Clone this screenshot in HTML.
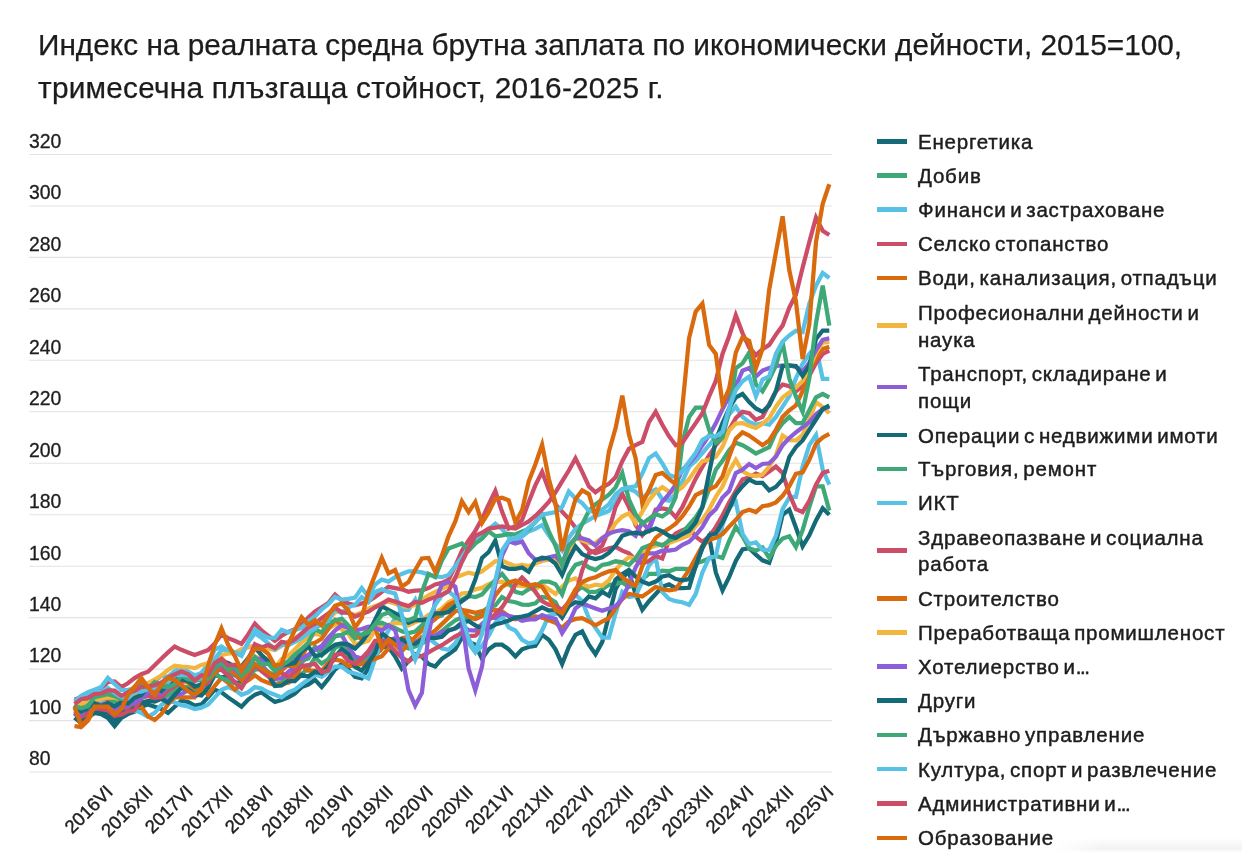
<!DOCTYPE html>
<html lang="bg"><head><meta charset="utf-8"><title>Индекс на реалната средна брутна заплата</title>
<style>
html,body{margin:0;padding:0;background:#fff;}
body{width:1242px;height:861px;overflow:hidden;position:relative;font-family:"Liberation Sans",sans-serif;color:#222;}
#chart{position:absolute;left:0;top:0;will-change:transform;}
#wrap{position:absolute;left:0;top:0;width:1242px;height:861px;will-change:transform;}
.title{position:absolute;left:38px;top:23px;font-size:29.8px;line-height:43px;color:#1c1c1c;white-space:nowrap;margin:0;font-weight:400;-webkit-text-stroke:.25px #1c1c1c;}
.ylab{font-size:19.4px;fill:#1e1e1e;stroke:#1e1e1e;stroke-width:.3px;}
.xlab{font-size:18.5px;fill:#222;stroke:#222;stroke-width:.4px;}
.leg{position:absolute;left:918px;font-size:20.5px;letter-spacing:.8px;word-spacing:-2.7px;-webkit-text-stroke:.45px #1d1d1d;line-height:27px;color:#1d1d1d;white-space:nowrap;transform-origin:0 50%;}
.sw{position:absolute;left:877px;width:30px;height:4.5px;}
.el{letter-spacing:-1.5px;}
.fade{position:absolute;left:1055px;top:838px;width:187px;height:15px;background:linear-gradient(to bottom,rgba(240,240,240,0),rgba(241,241,241,.9) 70%,rgba(255,255,255,0));-webkit-mask-image:linear-gradient(to right,transparent,#000 25%);mask-image:linear-gradient(to right,transparent,#000 25%);}
</style></head><body><div id="wrap">
<h1 class="title">Индекс на реалната средна брутна заплата по икономически дейности, 2015=100,<br><span id="t2" style="letter-spacing:.24px">тримесечна плъзгаща стойност, 2016-2025 г.</span></h1>
<svg id="chart" width="1242" height="861" viewBox="0 0 1242 861" font-family="Liberation Sans, sans-serif">
<g stroke="#e3e3e3" stroke-width="1.1">
<line x1="29" x2="832" y1="772.0" y2="772.0"/>
<line x1="29" x2="832" y1="720.6" y2="720.6"/>
<line x1="29" x2="832" y1="669.1" y2="669.1"/>
<line x1="29" x2="832" y1="617.6" y2="617.6"/>
<line x1="29" x2="832" y1="566.2" y2="566.2"/>
<line x1="29" x2="832" y1="514.7" y2="514.7"/>
<line x1="29" x2="832" y1="463.3" y2="463.3"/>
<line x1="29" x2="832" y1="411.8" y2="411.8"/>
<line x1="29" x2="832" y1="360.3" y2="360.3"/>
<line x1="29" x2="832" y1="308.9" y2="308.9"/>
<line x1="29" x2="832" y1="257.4" y2="257.4"/>
<line x1="29" x2="832" y1="206.0" y2="206.0"/>
<line x1="29" x2="832" y1="154.5" y2="154.5"/>
</g>
<g class="ylab">
<text x="29" y="765.3">80</text>
<text x="29" y="713.9">100</text>
<text x="29" y="662.4">120</text>
<text x="29" y="610.9">140</text>
<text x="29" y="559.5">160</text>
<text x="29" y="508.0">180</text>
<text x="29" y="456.6">200</text>
<text x="29" y="405.1">220</text>
<text x="29" y="353.6">240</text>
<text x="29" y="302.2">260</text>
<text x="29" y="250.7">280</text>
<text x="29" y="199.3">300</text>
<text x="29" y="147.8">320</text>
</g>
<g class="xlab" text-anchor="end">
<text transform="translate(113.8,793.0) rotate(-45)">2016VI</text>
<text transform="translate(153.8,793.0) rotate(-45)">2016XII</text>
<text transform="translate(193.9,793.0) rotate(-45)">2017VI</text>
<text transform="translate(233.9,793.0) rotate(-45)">2017XII</text>
<text transform="translate(274.0,793.0) rotate(-45)">2018VI</text>
<text transform="translate(314.1,793.0) rotate(-45)">2018XII</text>
<text transform="translate(354.1,793.0) rotate(-45)">2019VI</text>
<text transform="translate(394.1,793.0) rotate(-45)">2019XII</text>
<text transform="translate(434.2,793.0) rotate(-45)">2020VI</text>
<text transform="translate(474.2,793.0) rotate(-45)">2020XII</text>
<text transform="translate(514.3,793.0) rotate(-45)">2021VI</text>
<text transform="translate(554.3,793.0) rotate(-45)">2021XII</text>
<text transform="translate(594.4,793.0) rotate(-45)">2022VI</text>
<text transform="translate(634.4,793.0) rotate(-45)">2022XII</text>
<text transform="translate(674.5,793.0) rotate(-45)">2023VI</text>
<text transform="translate(714.5,793.0) rotate(-45)">2023XII</text>
<text transform="translate(754.6,793.0) rotate(-45)">2024VI</text>
<text transform="translate(794.6,793.0) rotate(-45)">2024XII</text>
<text transform="translate(834.7,793.0) rotate(-45)">2025VI</text>
</g>
<g fill="none" stroke-width="4.25" stroke-linejoin="miter" stroke-linecap="butt">
<polyline stroke="#146a77" points="74.5,717.7 81.2,723.1 87.9,718.0 94.5,712.8 101.2,714.1 107.9,718.0 114.6,726.2 121.3,718.0 127.9,714.1 134.6,711.6 141.3,706.7 148.0,704.4 154.7,706.7 161.3,709.0 168.0,712.8 174.7,706.7 181.4,700.7 188.1,702.0 194.7,705.6 201.4,704.4 208.1,697.4 214.8,689.7 221.5,692.3 228.1,697.4 234.8,702.0 241.5,706.7 248.2,699.5 254.9,694.8 261.5,692.3 268.2,697.4 274.9,702.0 281.6,700.0 288.3,697.4 294.9,693.5 301.6,687.1 308.3,684.5 315.0,679.9 321.7,687.1 328.3,678.9 335.0,669.6 341.7,664.0 348.4,669.6 355.1,676.8 361.7,678.4 368.4,668.6 375.1,656.5 381.8,647.0 388.5,647.0 395.1,656.5 401.8,668.6 408.5,661.4 415.2,654.2 421.9,656.5 428.5,664.0 435.2,666.5 441.9,658.8 448.6,654.2 455.3,649.3 461.9,637.5 468.6,642.1 475.3,644.7 482.0,658.8 488.7,649.3 495.3,644.7 502.0,644.7 508.7,649.3 515.4,656.5 522.1,649.3 528.7,647.0 535.4,645.9 542.1,634.9 548.8,639.8 555.5,649.3 562.1,664.0 568.8,647.0 575.5,634.9 582.2,631.3 588.9,644.7 595.5,654.2 602.2,642.1 608.9,615.8 615.6,589.3 622.3,577.2 628.9,572.4 635.6,594.0 642.3,609.9 649.0,601.2 655.7,594.0 662.3,586.8 669.0,584.4 675.7,588.1 682.4,588.1 689.1,587.8 695.7,566.2 702.4,548.2 709.1,536.3 715.8,572.4 722.5,590.4 729.1,577.2 735.8,561.0 742.5,549.5 749.2,548.2 755.9,554.6 762.5,560.3 769.2,562.8 775.9,543.0 782.6,514.7 789.3,509.6 795.9,527.6 802.6,546.4 809.3,535.3 816.0,520.4 822.7,508.3 829.3,514.7"/>
<polyline stroke="#3fa877" points="74.5,714.9 81.2,714.1 87.9,712.2 94.5,709.1 101.2,707.8 107.9,710.0 114.6,714.6 121.3,711.5 127.9,710.3 134.6,701.4 141.3,698.2 148.0,694.6 154.7,698.9 161.3,696.3 168.0,695.7 174.7,689.3 181.4,686.1 188.1,687.6 194.7,691.9 201.4,685.2 208.1,678.4 214.8,669.3 221.5,669.3 228.1,673.7 234.8,675.3 241.5,676.3 248.2,670.0 254.9,665.2 261.5,668.5 268.2,672.9 274.9,684.8 281.6,682.0 288.3,677.2 294.9,675.2 301.6,674.1 308.3,668.3 315.0,657.5 321.7,663.6 328.3,659.3 335.0,647.9 341.7,644.5 348.4,650.0 355.1,659.1 361.7,661.3 368.4,657.1 375.1,647.0 381.8,635.7 388.5,639.2 395.1,640.8 401.8,644.8 408.5,648.5 415.2,646.5 421.9,643.4 428.5,639.9 435.2,635.7 441.9,631.1 448.6,625.4 455.3,620.4 461.9,617.6 468.6,619.3 475.3,617.6 482.0,611.6 488.7,607.3 495.3,605.5 502.0,597.1 508.7,601.0 515.4,602.2 522.1,604.6 528.7,604.8 535.4,603.3 542.1,597.1 548.8,598.0 555.5,602.2 562.1,615.1 568.8,602.2 575.5,591.9 582.2,586.8 588.9,591.9 595.5,591.9 602.2,589.3 608.9,584.8 615.6,584.2 622.3,582.4 628.9,586.8 635.6,584.6 642.3,579.0 649.0,573.8 655.7,573.9 662.3,570.6 669.0,571.3 675.7,568.9 682.4,568.8 689.1,569.3 695.7,563.6 702.4,561.3 709.1,558.5 715.8,555.9 722.5,557.9 729.1,541.2 735.8,526.8 742.5,536.3 749.2,548.2 755.9,550.7 762.5,547.4 769.2,557.9 775.9,545.9 782.6,538.6 789.3,536.3 795.9,547.1 802.6,530.2 809.3,507.0 816.0,486.4 822.7,486.4 829.3,510.6"/>
<polyline stroke="#57c1e6" points="74.5,712.8 81.2,709.0 87.9,700.0 94.5,697.4 101.2,701.3 107.9,707.7 114.6,711.6 121.3,709.0 127.9,705.1 134.6,710.3 141.3,712.8 148.0,716.7 154.7,712.8 161.3,705.1 168.0,700.0 174.7,702.5 181.4,705.1 188.1,706.4 194.7,709.0 201.4,707.7 208.1,704.4 214.8,697.4 221.5,689.7 228.1,687.1 234.8,689.7 241.5,694.8 248.2,692.3 254.9,687.1 261.5,688.4 268.2,692.3 274.9,694.8 281.6,697.4 288.3,692.3 294.9,689.7 301.6,684.5 308.3,679.4 315.0,674.2 321.7,676.8 328.3,671.7 335.0,666.5 341.7,666.5 348.4,671.7 355.1,673.5 361.7,675.5 368.4,678.4 375.1,658.8 381.8,642.1 388.5,630.5 395.1,617.6 401.8,609.9 408.5,609.9 415.2,599.6 421.9,617.6 428.5,638.2 435.2,643.4 441.9,648.5 448.6,649.8 455.3,643.4 461.9,630.5 468.6,643.4 475.3,652.4 482.0,645.9 488.7,635.7 495.3,622.8 502.0,616.1 508.7,627.4 515.4,630.5 522.1,639.8 528.7,643.4 535.4,642.1 542.1,630.5 548.8,615.8 555.5,613.8 562.1,612.5 568.8,604.8 575.5,594.5 582.2,601.2 588.9,618.2 595.5,627.9 602.2,637.5 608.9,637.5 615.6,613.3 622.3,591.9 628.9,597.1 635.6,595.8 642.3,581.6 649.0,565.2 655.7,557.9 662.3,591.9 669.0,598.9 675.7,601.2 682.4,602.2 689.1,604.8 695.7,594.0 702.4,572.4 709.1,557.9 715.8,555.9 722.5,525.0 729.1,507.5 735.8,501.9 742.5,533.8 749.2,544.1 755.9,542.3 762.5,549.7 769.2,550.0 775.9,535.8 782.6,509.1 789.3,497.5 795.9,496.7 802.6,466.6 809.3,445.2 816.0,435.0 822.7,469.7 829.3,484.6"/>
<polyline stroke="#cb4d68" points="74.5,699.5 81.2,697.4 87.9,694.3 94.5,691.0 101.2,688.7 107.9,682.0 114.6,681.5 121.3,687.1 127.9,683.3 134.6,678.1 141.3,674.2 148.0,671.7 154.7,665.2 161.3,658.8 168.0,652.4 174.7,646.5 181.4,649.8 188.1,652.4 194.7,654.9 201.4,652.4 208.1,650.1 214.8,643.4 221.5,634.4 228.1,638.2 234.8,640.8 241.5,643.9 248.2,634.4 254.9,623.6 261.5,630.5 268.2,635.7 274.9,640.8 281.6,635.7 288.3,631.8 294.9,629.2 301.6,624.6 308.3,617.6 315.0,611.5 321.7,607.3 328.3,603.0 335.0,594.5 341.7,600.4 348.4,603.5 355.1,605.3 361.7,603.5 368.4,601.2 375.1,597.1 381.8,591.9 388.5,586.8 395.1,588.1 401.8,589.3 408.5,591.7 415.2,590.6 421.9,590.4 428.5,588.1 435.2,584.4 441.9,582.9 448.6,579.6 455.3,566.2 461.9,550.7 468.6,540.5 475.3,530.9 482.0,518.8 488.7,504.4 495.3,491.0 502.0,511.6 508.7,528.6 515.4,526.3 522.1,519.9 528.7,501.9 535.4,485.1 542.1,471.8 548.8,489.8 555.5,504.4 562.1,511.6 568.8,518.8 575.5,527.6 582.2,542.0 588.9,550.0 595.5,553.3 602.2,550.7 608.9,548.2 615.6,546.9 622.3,550.7 628.9,553.3 635.6,559.7 642.3,563.6 649.0,561.0 655.7,555.9 662.3,558.5 669.0,540.5 675.7,533.5 682.4,530.2 689.1,527.6 695.7,536.8 702.4,541.7 709.1,536.8 715.8,527.1 722.5,515.5 729.1,502.4 735.8,491.0 742.5,479.5 749.2,477.4 755.9,473.6 762.5,476.1 769.2,471.5 775.9,466.6 782.6,473.0 789.3,494.1 795.9,509.1 802.6,512.1 809.3,500.8 816.0,484.6 822.7,473.0 829.3,470.7"/>
<polyline stroke="#d96b0e" points="74.5,726.2 81.2,727.0 87.9,720.6 94.5,709.0 101.2,709.0 107.9,709.0 114.6,715.4 121.3,711.6 127.9,707.7 134.6,707.7 141.3,706.7 148.0,716.4 154.7,720.0 161.3,714.1 168.0,704.4 174.7,697.4 181.4,697.4 188.1,697.4 194.7,697.4 201.4,687.4 208.1,694.8 214.8,685.8 221.5,677.8 228.1,682.7 234.8,689.7 241.5,684.5 248.2,680.2 254.9,675.3 261.5,680.2 268.2,682.7 274.9,685.1 281.6,684.0 288.3,682.7 294.9,677.8 301.6,665.8 308.3,670.6 315.0,670.6 321.7,670.6 328.3,663.2 335.0,659.6 341.7,660.9 348.4,665.8 355.1,665.8 361.7,664.0 368.4,661.4 375.1,658.8 381.8,656.2 388.5,648.5 395.1,640.8 401.8,638.2 408.5,636.9 415.2,643.4 421.9,636.9 428.5,635.7 435.2,630.5 441.9,624.1 448.6,617.6 455.3,611.2 461.9,609.9 468.6,611.2 475.3,612.8 482.0,611.2 488.7,611.2 495.3,609.9 502.0,611.2 508.7,616.1 515.4,619.2 522.1,617.6 528.7,619.2 535.4,616.4 542.1,617.6 548.8,620.2 555.5,622.8 562.1,627.9 568.8,621.5 575.5,618.9 582.2,618.2 588.9,621.5 595.5,625.4 602.2,621.5 608.9,618.2 615.6,608.4 622.3,598.9 628.9,594.0 635.6,595.0 642.3,596.5 649.0,591.9 655.7,586.8 662.3,589.3 669.0,590.4 675.7,589.3 682.4,579.6 689.1,570.0 695.7,557.9 702.4,545.9 709.1,539.9 715.8,537.9 722.5,534.0 729.1,526.8 735.8,519.9 742.5,512.1 749.2,509.8 755.9,512.1 762.5,506.2 769.2,505.2 775.9,502.4 782.6,495.9 789.3,486.2 795.9,473.8 802.6,472.3 809.3,459.9 816.0,443.7 822.7,437.5 829.3,433.9"/>
<polyline stroke="#f2b63e" points="74.5,708.8 81.2,709.0 87.9,704.5 94.5,698.1 101.2,699.2 107.9,695.5 114.6,700.5 121.3,700.8 127.9,695.6 134.6,693.2 141.3,689.4 148.0,689.4 154.7,688.9 161.3,689.9 168.0,690.3 174.7,684.8 181.4,681.2 188.1,680.6 194.7,681.4 201.4,677.1 208.1,671.4 214.8,662.3 221.5,657.8 228.1,664.9 234.8,664.8 241.5,670.6 248.2,662.9 254.9,656.5 261.5,658.9 268.2,663.8 274.9,667.5 281.6,659.1 288.3,655.7 294.9,649.4 301.6,642.2 308.3,637.6 315.0,634.0 321.7,635.2 328.3,628.6 335.0,624.8 341.7,629.5 348.4,633.9 355.1,644.0 361.7,642.9 368.4,640.8 375.1,630.4 381.8,625.4 388.5,625.1 395.1,622.8 401.8,623.3 408.5,625.4 415.2,622.0 421.9,620.2 428.5,614.9 435.2,612.5 441.9,608.6 448.6,602.2 455.3,598.9 461.9,593.5 468.6,592.8 475.3,589.3 482.0,587.9 488.7,584.2 495.3,581.9 502.0,581.6 508.7,585.1 515.4,585.5 522.1,586.0 528.7,586.8 535.4,589.3 542.1,584.7 548.8,589.3 555.5,594.0 562.1,586.8 568.8,580.6 575.5,578.3 582.2,584.2 588.9,586.8 595.5,584.7 602.2,585.7 608.9,580.3 615.6,569.8 622.3,562.6 628.9,557.2 635.6,558.5 642.3,554.6 649.0,548.2 655.7,545.6 662.3,544.3 669.0,543.0 675.7,540.5 682.4,537.9 689.1,535.3 695.7,526.0 702.4,519.9 709.1,509.6 715.8,496.7 722.5,486.4 729.1,471.5 735.8,459.9 742.5,471.5 749.2,474.8 755.9,476.1 762.5,474.6 769.2,466.6 775.9,455.5 782.6,435.5 789.3,440.1 795.9,440.4 802.6,435.0 809.3,419.5 816.0,402.3 822.7,406.9 829.3,413.3"/>
<polyline stroke="#8c5fd8" points="74.5,714.1 81.2,709.5 87.9,706.8 94.5,701.1 101.2,706.8 107.9,707.1 114.6,712.9 121.3,708.6 127.9,706.1 134.6,697.7 141.3,696.3 148.0,691.4 154.7,692.6 161.3,697.2 168.0,701.6 174.7,695.2 181.4,694.0 188.1,690.4 194.7,696.3 201.4,693.3 208.1,680.0 214.8,674.2 221.5,666.7 228.1,669.3 234.8,674.4 241.5,681.1 248.2,673.8 254.9,666.4 261.5,664.9 268.2,672.5 274.9,679.3 281.6,678.1 288.3,671.8 294.9,667.1 301.6,662.7 308.3,655.6 315.0,649.1 321.7,649.8 328.3,643.5 335.0,635.7 341.7,635.1 348.4,646.7 355.1,656.6 361.7,658.6 368.4,653.8 375.1,642.3 381.8,640.8 388.5,640.4 395.1,638.2 401.8,642.6 408.5,643.4 415.2,641.3 421.9,640.8 428.5,635.7 435.2,636.1 441.9,632.0 448.6,630.5 455.3,628.6 461.9,625.4 468.6,630.2 475.3,630.5 482.0,624.0 488.7,617.6 495.3,617.8 502.0,613.3 508.7,615.8 515.4,617.6 522.1,620.8 528.7,619.4 535.4,619.4 542.1,615.1 548.8,617.4 555.5,618.9 562.1,633.1 568.8,622.8 575.5,608.4 582.2,603.5 588.9,606.1 595.5,608.4 602.2,610.7 608.9,608.4 615.6,606.1 622.3,598.9 628.9,584.2 635.6,567.5 642.3,555.9 649.0,553.3 655.7,553.3 662.3,550.7 669.0,550.7 675.7,549.5 682.4,544.8 689.1,541.7 695.7,535.3 702.4,527.1 709.1,515.5 715.8,509.1 722.5,497.5 729.1,491.0 735.8,473.0 742.5,469.7 749.2,464.0 755.9,468.1 762.5,464.0 769.2,463.3 775.9,456.8 782.6,445.2 789.3,438.0 795.9,432.4 802.6,427.2 809.3,422.1 816.0,414.4 822.7,409.2 829.3,406.7"/>
<polyline stroke="#146a77" points="74.5,713.0 81.2,719.1 87.9,711.9 94.5,713.0 101.2,712.2 107.9,713.0 114.6,721.6 121.3,711.8 127.9,712.0 134.6,707.7 141.3,702.6 148.0,701.0 154.7,701.7 161.3,698.8 168.0,702.6 174.7,694.8 181.4,688.1 188.1,689.5 194.7,694.4 201.4,695.5 208.1,687.9 214.8,674.9 221.5,677.6 228.1,675.7 234.8,682.3 241.5,683.6 248.2,674.3 254.9,664.8 261.5,668.9 268.2,675.2 274.9,686.0 281.6,685.5 288.3,680.8 294.9,681.0 301.6,674.8 308.3,676.5 315.0,671.7 321.7,673.4 328.3,666.1 335.0,656.8 341.7,649.2 348.4,654.2 355.1,666.9 361.7,670.5 368.4,662.7 375.1,652.9 381.8,633.1 388.5,638.6 395.1,640.8 401.8,639.2 408.5,643.4 415.2,643.7 421.9,639.5 428.5,637.6 435.2,638.2 441.9,636.9 448.6,630.5 455.3,628.2 461.9,622.8 468.6,621.0 475.3,625.4 482.0,628.4 488.7,627.9 495.3,624.5 502.0,622.8 508.7,620.5 515.4,617.6 522.1,616.6 528.7,615.1 535.4,611.2 542.1,607.3 548.8,610.5 555.5,609.9 562.1,617.6 568.8,606.1 575.5,602.2 582.2,603.5 588.9,596.5 595.5,598.3 602.2,591.9 608.9,595.8 615.6,579.6 622.3,573.9 628.9,570.0 635.6,576.5 642.3,581.6 649.0,584.2 655.7,581.6 662.3,576.5 669.0,575.2 675.7,579.0 682.4,580.3 689.1,579.0 695.7,566.2 702.4,546.6 709.1,535.3 715.8,533.5 722.5,522.4 729.1,509.1 735.8,494.1 742.5,486.2 749.2,479.5 755.9,482.8 762.5,482.8 769.2,490.3 775.9,486.9 782.6,479.5 789.3,456.8 795.9,447.1 802.6,440.4 809.3,429.8 816.0,419.5 822.7,409.2 829.3,405.4"/>
<polyline stroke="#3fa877" points="74.5,706.8 81.2,711.7 87.9,701.4 94.5,698.2 101.2,698.7 107.9,699.8 114.6,701.8 121.3,705.5 127.9,699.4 134.6,697.7 141.3,692.3 148.0,685.9 154.7,689.7 161.3,683.4 168.0,682.1 174.7,681.7 181.4,674.0 188.1,681.4 194.7,685.6 201.4,687.7 208.1,682.1 214.8,673.0 221.5,678.1 228.1,680.2 234.8,683.3 241.5,685.5 248.2,676.9 254.9,669.7 261.5,669.0 268.2,671.9 274.9,675.4 281.6,667.2 288.3,664.3 294.9,666.1 301.6,660.7 308.3,658.4 315.0,646.5 321.7,655.2 328.3,645.2 335.0,636.5 341.7,634.7 348.4,631.6 355.1,638.4 361.7,635.7 368.4,628.5 375.1,624.0 381.8,622.8 388.5,625.6 395.1,627.9 401.8,631.3 408.5,633.1 415.2,631.5 421.9,625.4 428.5,619.2 435.2,617.6 441.9,615.5 448.6,607.3 455.3,603.5 461.9,599.6 468.6,595.9 475.3,597.1 482.0,594.5 488.7,586.8 495.3,580.0 502.0,573.9 508.7,582.2 515.4,591.9 522.1,593.5 528.7,589.3 535.4,586.2 542.1,581.6 548.8,581.6 555.5,584.2 562.1,594.5 568.8,574.7 575.5,564.9 582.2,562.6 588.9,567.5 595.5,570.0 602.2,564.9 608.9,563.6 615.6,561.3 622.3,562.3 628.9,564.9 635.6,558.5 642.3,548.2 649.0,545.6 655.7,543.0 662.3,545.6 669.0,540.5 675.7,537.9 682.4,532.7 689.1,525.0 695.7,517.3 702.4,507.0 709.1,489.0 715.8,469.7 722.5,460.7 729.1,450.4 735.8,442.7 742.5,445.2 749.2,449.1 755.9,453.5 762.5,450.4 769.2,447.1 775.9,432.4 782.6,423.1 789.3,416.9 795.9,423.1 802.6,423.1 809.3,410.3 816.0,397.4 822.7,394.0 829.3,397.4"/>
<polyline stroke="#57c1e6" points="74.5,701.5 81.2,695.8 87.9,692.2 94.5,689.7 101.2,687.0 107.9,678.0 114.6,684.0 121.3,690.2 127.9,689.9 134.6,688.8 141.3,684.3 148.0,683.3 154.7,681.5 161.3,675.8 168.0,676.8 174.7,671.0 181.4,667.2 188.1,671.5 194.7,675.4 201.4,673.0 208.1,663.9 214.8,649.7 221.5,646.4 228.1,650.9 234.8,652.5 241.5,655.9 248.2,642.2 254.9,629.4 261.5,634.3 268.2,637.6 274.9,637.8 281.6,629.7 288.3,632.5 294.9,630.1 301.6,627.9 308.3,621.4 315.0,616.3 321.7,609.4 328.3,604.2 335.0,596.8 341.7,599.6 348.4,598.9 355.1,597.6 361.7,588.1 368.4,596.5 375.1,584.4 381.8,579.6 388.5,581.6 395.1,577.2 401.8,573.9 408.5,571.3 415.2,571.3 421.9,572.4 428.5,574.4 435.2,576.5 441.9,577.2 448.6,574.9 455.3,566.2 461.9,557.2 468.6,546.9 475.3,538.6 482.0,534.0 488.7,529.1 495.3,523.7 502.0,529.1 508.7,536.6 515.4,540.5 522.1,536.6 528.7,531.4 535.4,528.9 542.1,525.0 548.8,535.3 555.5,544.3 562.1,550.7 568.8,537.9 575.5,528.9 582.2,523.7 588.9,519.9 595.5,516.0 602.2,513.4 608.9,510.9 615.6,501.9 622.3,490.8 628.9,489.0 635.6,491.6 642.3,498.0 649.0,492.8 655.7,489.5 662.3,499.3 669.0,500.6 675.7,494.1 682.4,481.3 689.1,466.6 695.7,460.7 702.4,453.0 709.1,445.2 715.8,437.5 722.5,427.2 729.1,414.4 735.8,406.7 742.5,416.9 749.2,422.1 755.9,424.7 762.5,423.1 769.2,424.7 775.9,416.9 782.6,406.7 789.3,396.4 795.9,378.4 802.6,363.7 809.3,353.9 816.0,346.7 822.7,378.9 829.3,378.9"/>
<polyline stroke="#cb4d68" points="74.5,713.7 81.2,716.9 87.9,713.7 94.5,708.4 101.2,709.2 107.9,710.5 114.6,715.7 121.3,714.7 127.9,711.4 134.6,710.0 141.3,697.7 148.0,695.9 154.7,698.1 161.3,696.9 168.0,690.4 174.7,686.1 181.4,681.9 188.1,681.0 194.7,686.7 201.4,685.8 208.1,682.6 214.8,669.7 221.5,669.9 228.1,675.3 234.8,682.2 241.5,688.2 248.2,677.0 254.9,664.9 261.5,671.1 268.2,676.4 274.9,674.8 281.6,672.9 288.3,677.2 294.9,671.7 301.6,666.0 308.3,665.0 315.0,663.9 321.7,672.3 328.3,670.4 335.0,654.8 341.7,653.6 348.4,660.9 355.1,663.8 361.7,658.5 368.4,651.1 375.1,640.9 381.8,640.8 388.5,644.3 395.1,651.1 401.8,657.7 408.5,661.4 415.2,656.5 421.9,656.2 428.5,652.4 435.2,648.5 441.9,645.2 448.6,640.8 455.3,636.3 461.9,633.1 468.6,636.1 475.3,635.7 482.0,629.5 488.7,620.2 495.3,614.2 502.0,607.3 508.7,597.1 515.4,584.2 522.1,577.5 528.7,584.2 535.4,591.9 542.1,601.2 548.8,604.8 555.5,606.1 562.1,609.9 568.8,602.2 575.5,594.5 582.2,570.3 588.9,553.3 595.5,550.7 602.2,545.6 608.9,530.2 615.6,507.0 622.3,494.1 628.9,507.0 635.6,525.0 642.3,535.3 649.0,527.6 655.7,509.6 662.3,508.3 669.0,509.6 675.7,517.3 682.4,507.0 689.1,492.6 695.7,478.7 702.4,466.6 709.1,455.5 715.8,445.2 722.5,437.5 729.1,429.8 735.8,418.2 742.5,411.8 749.2,413.3 755.9,419.8 762.5,416.9 769.2,404.1 775.9,391.2 782.6,384.5 789.3,386.1 795.9,391.2 802.6,386.1 809.3,375.8 816.0,362.9 822.7,353.9 829.3,350.6"/>
<polyline stroke="#d96b0e" points="74.5,709.0 81.2,706.6 87.9,704.8 94.5,701.1 101.2,696.7 107.9,699.0 114.6,696.7 121.3,699.4 127.9,693.1 134.6,686.5 141.3,683.9 148.0,683.8 154.7,680.7 161.3,686.1 168.0,684.0 174.7,677.1 181.4,677.8 188.1,682.9 194.7,688.2 201.4,685.3 208.1,678.9 214.8,673.2 221.5,663.5 228.1,669.4 234.8,673.5 241.5,680.1 248.2,671.2 254.9,663.8 261.5,668.3 268.2,672.5 274.9,677.2 281.6,670.4 288.3,664.7 294.9,666.3 301.6,657.4 308.3,644.3 315.0,642.7 321.7,638.7 328.3,629.0 335.0,620.0 341.7,624.9 348.4,626.2 355.1,632.4 361.7,639.8 368.4,631.0 375.1,627.3 381.8,648.5 388.5,639.5 395.1,644.7 401.8,651.1 408.5,644.9 415.2,636.9 421.9,630.5 428.5,624.1 435.2,619.2 441.9,611.2 448.6,604.8 455.3,601.4 461.9,611.2 468.6,616.1 475.3,619.2 482.0,616.1 488.7,611.2 495.3,595.3 502.0,587.0 508.7,582.4 515.4,580.6 522.1,583.7 528.7,585.5 535.4,584.2 542.1,586.8 548.8,597.1 555.5,609.9 562.1,613.3 568.8,601.2 575.5,589.3 582.2,582.1 588.9,579.0 595.5,577.2 602.2,573.9 608.9,571.3 615.6,570.0 622.3,577.2 628.9,582.1 635.6,585.7 642.3,566.2 649.0,548.2 655.7,537.9 662.3,532.7 669.0,528.6 675.7,523.7 682.4,516.3 689.1,506.5 695.7,495.2 702.4,491.8 709.1,489.5 715.8,486.2 722.5,476.4 729.1,456.8 735.8,438.8 742.5,432.4 749.2,435.5 755.9,440.4 762.5,445.2 769.2,440.4 775.9,429.8 782.6,416.9 789.3,410.3 795.9,405.4 802.6,391.2 809.3,371.7 816.0,357.8 822.7,349.0 829.3,346.7"/>
<polyline stroke="#f2b63e" points="74.5,706.4 81.2,703.7 87.9,702.5 94.5,700.0 101.2,699.2 107.9,697.4 114.6,697.6 121.3,697.8 127.9,696.1 134.6,697.4 141.3,689.9 148.0,683.3 154.7,679.5 161.3,675.5 168.0,670.0 174.7,665.8 181.4,666.7 188.1,667.0 194.7,668.1 201.4,664.9 208.1,663.2 214.8,659.7 221.5,654.9 228.1,653.7 234.8,652.6 241.5,649.3 248.2,647.5 254.9,645.2 261.5,646.5 268.2,648.8 274.9,650.1 281.6,645.9 288.3,641.6 294.9,638.2 301.6,634.4 308.3,630.5 315.0,628.2 321.7,624.1 328.3,619.7 335.0,612.5 341.7,611.2 348.4,612.5 355.1,615.1 361.7,612.5 368.4,608.6 375.1,606.1 381.8,603.2 388.5,601.7 395.1,603.5 401.8,606.3 408.5,606.8 415.2,604.8 421.9,599.9 428.5,595.3 435.2,591.9 441.9,588.8 448.6,585.5 455.3,577.5 461.9,574.9 468.6,572.6 475.3,574.2 482.0,571.3 488.7,566.2 495.3,561.3 502.0,560.5 508.7,563.6 515.4,566.2 522.1,564.9 528.7,566.2 535.4,563.6 542.1,561.0 548.8,559.7 555.5,558.5 562.1,566.2 568.8,550.7 575.5,537.9 582.2,540.5 588.9,543.0 595.5,543.0 602.2,537.9 608.9,534.3 615.6,523.0 622.3,516.5 628.9,513.2 635.6,523.0 642.3,511.6 649.0,500.3 655.7,492.1 662.3,487.2 669.0,491.6 675.7,491.6 682.4,487.2 689.1,479.2 695.7,469.4 702.4,461.2 709.1,459.7 715.8,456.8 722.5,446.8 729.1,430.6 735.8,423.6 742.5,423.1 749.2,425.7 755.9,428.0 762.5,423.9 769.2,418.2 775.9,406.7 782.6,397.4 789.3,392.5 795.9,387.6 802.6,380.9 809.3,368.1 816.0,352.6 822.7,342.6 829.3,341.8"/>
<polyline stroke="#8c5fd8" points="74.5,707.3 81.2,713.9 87.9,705.6 94.5,706.9 101.2,704.9 107.9,702.8 114.6,707.9 121.3,704.2 127.9,704.9 134.6,703.2 141.3,698.2 148.0,692.5 154.7,690.6 161.3,693.2 168.0,686.7 174.7,681.0 181.4,678.3 188.1,674.6 194.7,680.5 201.4,675.9 208.1,673.8 214.8,667.1 221.5,665.2 228.1,665.2 234.8,669.7 241.5,674.0 248.2,665.9 254.9,658.1 261.5,659.5 268.2,662.9 274.9,668.6 281.6,667.4 288.3,663.3 294.9,658.8 301.6,658.5 308.3,654.9 315.0,649.6 321.7,645.9 328.3,637.6 335.0,630.5 341.7,625.4 348.4,627.9 355.1,630.5 361.7,629.0 368.4,626.6 375.1,627.9 381.8,630.5 388.5,625.4 395.1,630.2 401.8,654.2 408.5,690.2 415.2,705.6 421.9,692.8 428.5,634.9 435.2,601.2 441.9,584.4 448.6,582.1 455.3,586.8 461.9,620.5 468.6,668.6 475.3,690.2 482.0,666.5 488.7,620.5 495.3,584.4 502.0,555.9 508.7,541.2 515.4,543.5 522.1,541.5 528.7,553.3 535.4,559.7 542.1,559.2 548.8,557.2 555.5,555.9 562.1,563.6 568.8,545.6 575.5,537.9 582.2,538.4 588.9,540.5 595.5,545.6 602.2,538.4 608.9,533.5 615.6,531.2 622.3,530.2 628.9,531.2 635.6,535.8 642.3,522.4 649.0,530.2 655.7,512.1 662.3,501.9 669.0,494.1 675.7,484.6 682.4,469.7 689.1,463.3 695.7,455.5 702.4,445.2 709.1,435.5 715.8,423.4 722.5,409.2 729.1,396.4 735.8,386.1 742.5,370.6 749.2,368.1 755.9,376.5 762.5,370.6 769.2,368.1 775.9,366.0 782.6,365.5 789.3,365.5 795.9,366.8 802.6,371.7 809.3,362.9 816.0,350.0 822.7,339.8 829.3,338.2"/>
<polyline stroke="#146a77" points="74.5,705.2 81.2,711.3 87.9,707.6 94.5,703.1 101.2,706.2 107.9,703.2 114.6,706.4 121.3,702.3 127.9,703.4 134.6,697.8 141.3,694.9 148.0,687.1 154.7,686.8 161.3,691.1 168.0,684.3 174.7,679.0 181.4,679.3 188.1,681.0 194.7,686.7 201.4,684.3 208.1,673.6 214.8,668.0 221.5,660.9 228.1,662.9 234.8,666.6 241.5,666.3 248.2,658.1 254.9,647.6 261.5,655.0 268.2,661.0 274.9,668.6 281.6,665.0 288.3,664.3 294.9,662.8 301.6,651.5 308.3,646.3 315.0,656.2 321.7,654.9 328.3,649.8 335.0,644.8 341.7,643.4 348.4,644.6 355.1,648.5 361.7,642.1 368.4,633.1 375.1,619.6 381.8,606.1 388.5,609.9 395.1,613.3 401.8,617.2 408.5,622.8 415.2,620.0 421.9,620.2 428.5,618.8 435.2,613.3 441.9,613.3 448.6,612.1 455.3,606.1 461.9,601.2 468.6,596.5 475.3,579.6 482.0,557.9 488.7,552.0 495.3,540.5 502.0,566.2 508.7,568.8 515.4,568.8 522.1,567.5 528.7,571.8 535.4,560.3 542.1,557.7 548.8,558.5 555.5,563.6 562.1,574.9 568.8,559.0 575.5,546.4 582.2,554.1 588.9,557.2 595.5,559.0 602.2,557.2 608.9,552.8 615.6,545.6 622.3,535.8 628.9,533.5 635.6,532.7 642.3,534.0 649.0,530.9 655.7,528.6 662.3,531.4 669.0,535.8 675.7,537.9 682.4,534.0 689.1,530.7 695.7,522.4 702.4,507.0 709.1,473.0 715.8,440.4 722.5,423.1 729.1,408.5 735.8,397.4 742.5,394.0 749.2,402.0 755.9,408.5 762.5,411.8 769.2,405.4 775.9,391.2 782.6,366.0 789.3,365.5 795.9,366.0 802.6,375.8 809.3,365.5 816.0,339.0 822.7,330.5 829.3,330.5"/>
<polyline stroke="#3fa877" points="74.5,706.1 81.2,708.3 87.9,706.1 94.5,697.2 101.2,695.6 107.9,694.2 114.6,696.1 121.3,699.1 127.9,697.3 134.6,690.8 141.3,685.9 148.0,688.8 154.7,682.2 161.3,686.3 168.0,687.3 174.7,684.2 181.4,675.5 188.1,679.2 194.7,680.7 201.4,679.9 208.1,678.4 214.8,667.9 221.5,662.6 228.1,669.5 234.8,666.6 241.5,675.4 248.2,669.3 254.9,657.1 261.5,664.8 268.2,663.5 274.9,671.1 281.6,665.1 288.3,661.2 294.9,654.5 301.6,649.1 308.3,642.7 315.0,629.1 321.7,632.6 328.3,623.3 335.0,620.4 341.7,618.7 348.4,625.5 355.1,633.1 361.7,635.0 368.4,632.4 375.1,624.2 381.8,615.1 388.5,612.5 395.1,617.6 401.8,620.2 408.5,620.2 415.2,617.6 421.9,591.9 428.5,573.9 435.2,577.2 441.9,560.5 448.6,548.4 455.3,545.9 461.9,543.5 468.6,550.7 475.3,543.5 482.0,538.6 488.7,531.4 495.3,536.3 502.0,535.3 508.7,534.0 515.4,534.5 522.1,531.4 528.7,529.1 535.4,521.9 542.1,514.7 548.8,531.4 555.5,545.9 562.1,565.2 568.8,545.9 575.5,538.6 582.2,524.2 588.9,510.9 595.5,504.4 602.2,499.5 608.9,494.7 615.6,487.4 622.3,473.0 628.9,499.5 635.6,514.2 642.3,523.7 649.0,518.8 655.7,514.2 662.3,516.5 669.0,511.6 675.7,497.2 682.4,442.7 689.1,416.9 695.7,407.7 702.4,407.7 709.1,429.8 715.8,442.7 722.5,437.5 729.1,411.8 735.8,368.3 742.5,363.4 749.2,352.6 755.9,384.5 762.5,391.2 769.2,379.6 775.9,365.5 782.6,342.3 789.3,378.4 795.9,396.4 802.6,411.8 809.3,378.4 816.0,323.0 822.7,285.7 829.3,325.6"/>
<polyline stroke="#57c1e6" points="74.5,701.2 81.2,698.3 87.9,694.6 94.5,691.4 101.2,692.2 107.9,687.9 114.6,693.1 121.3,697.0 127.9,698.2 134.6,691.8 141.3,691.7 148.0,689.2 154.7,688.1 161.3,682.7 168.0,682.4 174.7,675.4 181.4,674.7 188.1,675.3 194.7,679.4 201.4,678.5 208.1,669.3 214.8,659.0 221.5,649.8 228.1,649.9 234.8,652.2 241.5,654.2 248.2,642.6 254.9,633.2 261.5,637.7 268.2,643.3 274.9,649.3 281.6,644.6 288.3,645.1 294.9,641.9 301.6,638.0 308.3,633.0 315.0,628.5 321.7,623.8 328.3,620.9 335.0,609.0 341.7,613.4 348.4,607.3 355.1,604.8 361.7,597.1 368.4,602.2 375.1,591.9 381.8,589.3 388.5,591.9 395.1,593.5 401.8,614.6 408.5,640.3 415.2,659.6 421.9,643.4 428.5,619.2 435.2,604.8 441.9,595.3 448.6,591.1 455.3,597.1 461.9,616.1 468.6,638.5 475.3,651.3 482.0,633.8 488.7,604.8 495.3,580.6 502.0,550.7 508.7,540.5 515.4,537.9 522.1,534.0 528.7,527.6 535.4,522.4 542.1,514.7 548.8,513.4 555.5,512.1 562.1,507.0 568.8,491.6 575.5,498.5 582.2,503.1 588.9,510.9 595.5,512.1 602.2,509.6 608.9,504.4 615.6,494.1 622.3,489.0 628.9,487.4 635.6,486.4 642.3,473.6 649.0,458.1 655.7,453.5 662.3,463.3 669.0,475.1 675.7,477.2 682.4,471.0 689.1,461.7 695.7,453.0 702.4,440.1 709.1,436.0 715.8,436.5 722.5,431.6 729.1,407.9 735.8,389.9 742.5,381.2 749.2,376.5 755.9,396.4 762.5,379.6 769.2,376.5 775.9,353.9 782.6,341.6 789.3,335.4 795.9,330.8 802.6,332.0 809.3,303.7 816.0,285.7 822.7,272.9 829.3,278.0"/>
<polyline stroke="#cb4d68" points="74.5,703.9 81.2,699.3 87.9,697.9 94.5,694.0 101.2,693.5 107.9,690.4 114.6,690.7 121.3,695.8 127.9,692.6 134.6,690.7 141.3,687.0 148.0,686.5 154.7,685.3 161.3,682.6 168.0,677.6 174.7,674.5 181.4,671.6 188.1,674.1 194.7,680.5 201.4,675.3 208.1,675.0 214.8,663.1 221.5,658.8 228.1,665.4 234.8,665.0 241.5,667.2 248.2,660.1 254.9,644.2 261.5,647.4 268.2,645.1 274.9,648.2 281.6,641.9 288.3,643.1 294.9,639.3 301.6,633.3 308.3,627.3 315.0,623.7 321.7,618.2 328.3,613.5 335.0,607.6 341.7,612.3 348.4,612.8 355.1,616.6 361.7,614.1 368.4,611.7 375.1,607.3 381.8,603.9 388.5,599.6 395.1,601.4 401.8,604.0 408.5,606.1 415.2,602.0 421.9,602.8 428.5,599.6 435.2,596.9 441.9,594.7 448.6,590.9 455.3,577.7 461.9,562.0 468.6,548.5 475.3,535.8 482.0,532.7 488.7,528.6 495.3,527.6 502.0,526.3 508.7,527.6 515.4,528.6 522.1,525.0 528.7,521.4 535.4,516.0 542.1,509.3 548.8,501.9 555.5,492.3 562.1,481.3 568.8,470.5 575.5,458.4 582.2,471.8 588.9,486.4 595.5,492.3 602.2,487.4 608.9,483.8 615.6,477.2 622.3,461.2 628.9,448.9 635.6,445.2 642.3,441.9 649.0,422.1 655.7,411.8 662.3,424.7 669.0,436.2 675.7,445.2 682.4,442.7 689.1,432.6 695.7,423.1 702.4,413.3 709.1,396.4 715.8,380.9 722.5,353.9 729.1,336.2 735.8,315.3 742.5,333.1 749.2,347.5 755.9,355.2 762.5,349.3 769.2,344.9 775.9,334.6 782.6,325.6 789.3,307.6 795.9,294.7 802.6,267.7 809.3,242.0 816.0,217.5 822.7,230.7 829.3,235.0"/>
<polyline stroke="#d96b0e" points="74.5,706.7 81.2,725.7 87.9,718.8 94.5,706.7 101.2,706.7 107.9,706.7 114.6,714.1 121.3,709.2 127.9,694.8 134.6,687.1 141.3,677.8 148.0,687.4 154.7,694.8 161.3,685.1 168.0,677.8 174.7,680.2 181.4,685.1 188.1,691.0 194.7,694.8 201.4,689.7 208.1,665.8 214.8,644.7 221.5,628.4 228.1,644.7 234.8,656.2 241.5,670.6 248.2,658.8 254.9,648.8 261.5,648.8 268.2,653.7 274.9,665.8 281.6,664.0 288.3,643.9 294.9,630.0 301.6,617.1 308.3,624.6 315.0,620.2 321.7,625.4 328.3,615.1 335.0,605.8 341.7,603.5 348.4,610.4 355.1,627.4 361.7,618.2 368.4,591.9 375.1,574.9 381.8,557.9 388.5,573.4 395.1,570.0 401.8,586.8 408.5,582.1 415.2,570.0 421.9,558.5 428.5,557.9 435.2,571.8 441.9,555.4 448.6,536.1 455.3,521.4 461.9,501.3 468.6,512.1 475.3,501.9 482.0,523.0 488.7,512.1 495.3,498.8 502.0,497.7 508.7,500.3 515.4,522.4 522.1,510.1 528.7,481.3 535.4,464.3 542.1,444.7 548.8,478.7 555.5,503.1 562.1,550.7 568.8,521.9 575.5,499.3 582.2,490.3 588.9,494.1 595.5,516.0 602.2,496.7 608.9,451.7 615.6,428.0 622.3,395.6 628.9,434.4 635.6,458.1 642.3,503.4 649.0,490.3 655.7,475.1 662.3,473.0 669.0,479.0 675.7,484.4 682.4,406.7 689.1,338.0 695.7,311.5 702.4,303.7 709.1,344.9 715.8,353.9 722.5,404.1 729.1,388.6 735.8,352.6 742.5,337.2 749.2,341.0 755.9,368.1 762.5,348.8 769.2,289.6 775.9,252.3 782.6,216.3 789.3,270.3 795.9,301.2 802.6,359.1 809.3,324.3 816.0,242.0 822.7,203.9 829.3,184.3"/>
</g>
</svg>
<div class="sw" style="top:139.45px;background:#146a77"></div>
<div class="leg" style="top:128.1px">Енергетика</div>
<div class="sw" style="top:173.35px;background:#3fa877"></div>
<div class="leg" style="top:162.0px">Добив</div>
<div class="sw" style="top:207.45px;background:#57c1e6"></div>
<div class="leg" style="top:196.1px">Финанси и застраховане</div>
<div class="sw" style="top:241.55px;background:#cb4d68"></div>
<div class="leg" style="top:230.2px">Селско стопанство</div>
<div class="sw" style="top:275.65px;background:#d96b0e"></div>
<div class="leg" style="top:264.3px">Води, канализация, отпадъци</div>
<div class="sw" style="top:323.45px;background:#f2b63e"></div>
<div class="leg" style="top:299.1px">Професионални дейности и</div>
<div class="leg" style="top:325.7px">наука</div>
<div class="sw" style="top:384.75px;background:#8c5fd8"></div>
<div class="leg" style="top:360.4px">Транспорт, складиране и</div>
<div class="leg" style="top:387.0px">пощи</div>
<div class="sw" style="top:432.85px;background:#146a77"></div>
<div class="leg" style="top:421.5px">Операции с недвижими имоти</div>
<div class="sw" style="top:466.75px;background:#3fa877"></div>
<div class="leg" style="top:455.4px">Търговия, ремонт</div>
<div class="sw" style="top:500.75px;background:#57c1e6"></div>
<div class="leg" style="top:489.4px">ИКТ</div>
<div class="sw" style="top:548.15px;background:#cb4d68"></div>
<div class="leg" style="top:523.8px">Здравеопазване и социална</div>
<div class="leg" style="top:550.4px">работа</div>
<div class="sw" style="top:596.15px;background:#d96b0e"></div>
<div class="leg" style="top:584.8px">Строителство</div>
<div class="sw" style="top:630.25px;background:#f2b63e"></div>
<div class="leg" style="top:618.9px">Преработваща промишленост</div>
<div class="sw" style="top:664.35px;background:#8c5fd8"></div>
<div class="leg" style="top:653.0px">Хотелиерство и<span class=el>...</span></div>
<div class="sw" style="top:698.45px;background:#146a77"></div>
<div class="leg" style="top:687.1px">Други</div>
<div class="sw" style="top:732.55px;background:#3fa877"></div>
<div class="leg" style="top:721.2px">Държавно управление</div>
<div class="sw" style="top:766.95px;background:#57c1e6"></div>
<div class="leg" style="top:755.6px">Култура, спорт и развлечение</div>
<div class="sw" style="top:801.05px;background:#cb4d68"></div>
<div class="leg" style="top:789.7px">Административни и<span class=el>...</span></div>
<div class="sw" style="top:835.55px;background:#d96b0e"></div>
<div class="leg" style="top:824.2px">Образование</div>
<div class="fade"></div>
</div></body></html>
